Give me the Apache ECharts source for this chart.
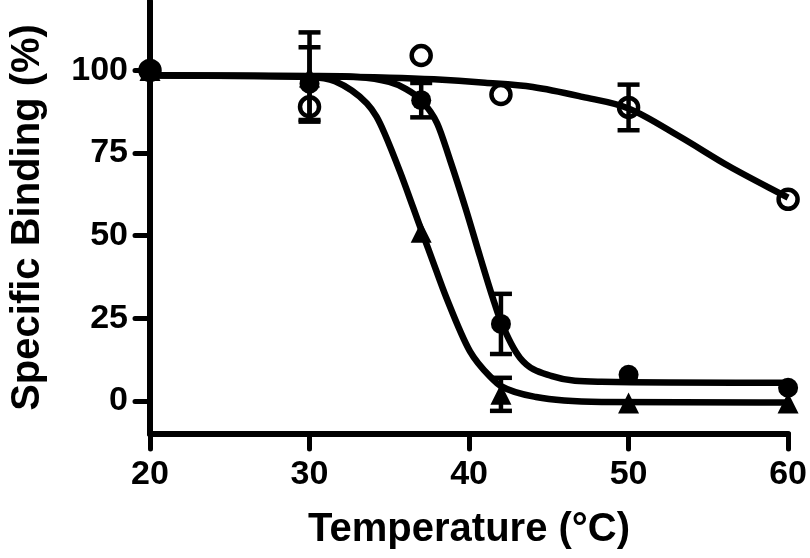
<!DOCTYPE html>
<html>
<head>
<meta charset="utf-8">
<script src="https://cdn.jsdelivr.net/npm/echarts@6.0.0/dist/echarts.min.js"></script>
<style>
  html, body { margin: 0; padding: 0; background: #fff; }
  #chart { width: 810px; height: 558px; }
</style>
</head>
<body>
<div id="chart"></div>
<script>
// measured points (temperature, °C)
const temps = [20, 30, 37, 42, 50, 60]

const filledY = [100, 96, 91, 23.3, 7.9, 4]
const filledErr = [0, 11, 5.2, 9.1, 0, 0]

const openY = [100, 89, 104.5, 92.7, 88.8, 61]
const openErr = [0, 0, 0, 0, 6.9, 0]

const triY = [100, 98, 51, 2, -0.6, -0.6]
const triErr = [0, 13.5, 0, 5, 0, 0]

// fitted curves
const fitFilledX = [20, 30, 33, 35, 36, 37, 38, 38.8, 39.8, 40.7, 41.5, 42, 43.2, 45.2, 48.3, 60]
const fitFilledY = [98.5, 98.3, 98, 96.5, 94.5, 91, 84, 73, 58, 43.5, 31, 24, 13, 7.5, 5.8, 5.5]

const fitOpenX = [20, 30, 35, 37.8, 41, 44, 47.1, 50, 53.2, 56.3, 60]
const fitOpenY = [98.5, 98.2, 97.8, 97.3, 96.3, 95, 92, 88.5, 80, 71, 61.5]

const fitTriX = [20, 30, 31.6, 33.6, 34.2, 34.7, 35.7, 36.5, 37.1, 37.6, 38.6, 40.06, 41.5, 42, 44.2, 48.3, 60]
const fitTriY = [98.5, 98, 96.7, 90, 86, 81, 69, 58.5, 50.5, 44, 31, 15, 6.5, 4.5, 1.2, -0.3, -0.5]

const yTicks = [0, 25, 50, 75, 100]
const xTicks = [20, 30, 40, 50, 60]

const zip = (xs, ys) => xs.map((x, i) => [x, ys[i]])
const bars = (ys, errs) => temps.map((x, i) => [x, ys[i] - errs[i], ys[i] + errs[i]])

const chart = echarts.init(document.getElementById('chart'))

const font = 'Liberation Sans, Arial, sans-serif'
const ink = '#000'

function errorBar(params, api) {
	const x = api.value(0)
	if (api.value(1) === api.value(2)) return
	const lo = api.coord([x, api.value(1)])
	const hi = api.coord([x, api.value(2)])
	const w = 11
	const style = { stroke: ink, lineWidth: 4.5 }
	return {
		type: 'group',
		children: [
			{ type: 'line', shape: { x1: lo[0], y1: lo[1], x2: hi[0], y2: hi[1] }, style },
			{ type: 'line', shape: { x1: hi[0] - w, y1: hi[1], x2: hi[0] + w, y2: hi[1] }, style },
			{ type: 'line', shape: { x1: lo[0] - w, y1: lo[1], x2: lo[0] + w, y2: lo[1] }, style }
		]
	}
}

// smooth monotone path through the read points, placed by the axes
function curvePath(pts) {
	const n = pts.length
	const d = []
	for (let i = 0; i < n - 1; i++) {
		d.push((pts[i + 1][1] - pts[i][1]) / (pts[i + 1][0] - pts[i][0]))
	}
	const m = [d[0]]
	for (let i = 1; i < n - 1; i++) {
		m.push(d[i - 1] * d[i] <= 0 ? 0 : (d[i - 1] + d[i]) / 2)
	}
	m.push(d[n - 2])
	for (let i = 0; i < n - 1; i++) {
		if (d[i] === 0) { m[i] = 0; m[i + 1] = 0; continue }
		const a = m[i] / d[i], b = m[i + 1] / d[i]
		const s = a * a + b * b
		if (s > 9) {
			const t = 3 / Math.sqrt(s)
			m[i] = t * a * d[i]
			m[i + 1] = t * b * d[i]
		}
	}
	let path = 'M' + pts[0][0] + ' ' + pts[0][1]
	for (let i = 0; i < n - 1; i++) {
		const h = (pts[i + 1][0] - pts[i][0]) / 3
		path += ' C' + (pts[i][0] + h) + ' ' + (pts[i][1] + m[i] * h) + ' ' +
			(pts[i + 1][0] - h) + ' ' + (pts[i + 1][1] - m[i + 1] * h) + ' ' +
			pts[i + 1][0] + ' ' + pts[i + 1][1]
	}
	return path
}

function fitLine(xs, ys) {
	return {
		type: 'custom',
		data: [0],
		renderItem: (params, api) => ({
			type: 'path',
			shape: { pathData: curvePath(xs.map((x, i) => api.coord([x, ys[i]]))) },
			style: { fill: 'none', stroke: ink, lineWidth: 6.5 }
		}),
		z: 2
	}
}

function errSeries(data) {
	return { type: 'custom', data, renderItem: errorBar, z: 3 }
}

function marks(data, symbol, size, itemStyle) {
	return { type: 'scatter', data, symbol, symbolSize: size, itemStyle: Object.assign({ opacity: 1 }, itemStyle), z: 4 }
}

chart.setOption({
	backgroundColor: '#fff',
	animation: false,
	grid: { left: 143, right: 21, top: 1, bottom: 124 },
	xAxis: {
		type: 'value',
		min: 20,
		max: 60,
		interval: 10,
		name: 'Temperature (°C)',
		nameLocation: 'middle',
		nameGap: 76,
		nameTextStyle: { fontFamily: font, fontWeight: 'bold', fontSize: 40, color: ink },
		axisLine: { onZero: false, lineStyle: { color: ink, width: 6, cap: 'round' } },
		axisTick: { length: 15, lineStyle: { color: ink, width: 5, cap: 'round' }, customValues: xTicks },
		axisLabel: { margin: 24, fontFamily: font, fontWeight: 'bold', fontSize: 34, color: ink, customValues: xTicks },
		splitLine: { show: false }
	},
	yAxis: {
		type: 'value',
		min: -10,
		max: 121,
		name: 'Specific Binding (%)',
		nameLocation: 'middle',
		nameGap: 102,
		nameTextStyle: { fontFamily: font, fontWeight: 'bold', fontSize: 40, color: ink },
		axisLine: { onZero: false, lineStyle: { color: ink, width: 6, cap: 'round' } },
		axisTick: { length: 15, lineStyle: { color: ink, width: 5, cap: 'round' }, customValues: yTicks },
		axisLabel: { margin: 22, fontFamily: font, fontWeight: 'bold', fontSize: 34, color: ink, customValues: yTicks },
		splitLine: { show: false }
	},
	series: [
		fitLine(fitOpenX, fitOpenY),
		fitLine(fitFilledX, fitFilledY),
		fitLine(fitTriX, fitTriY),
		errSeries(bars(openY, openErr)),
		errSeries(bars(filledY, filledErr)),
		errSeries(bars(triY, triErr)),
		marks(zip(temps, openY), 'circle', 19, { color: 'transparent', borderColor: ink, borderWidth: 4.5 }),
		marks(zip(temps, filledY), 'circle', 20, { color: ink }),
		marks(zip(temps, triY), 'triangle', 21, { color: ink })
	]
})
</script>
</body>
</html>
